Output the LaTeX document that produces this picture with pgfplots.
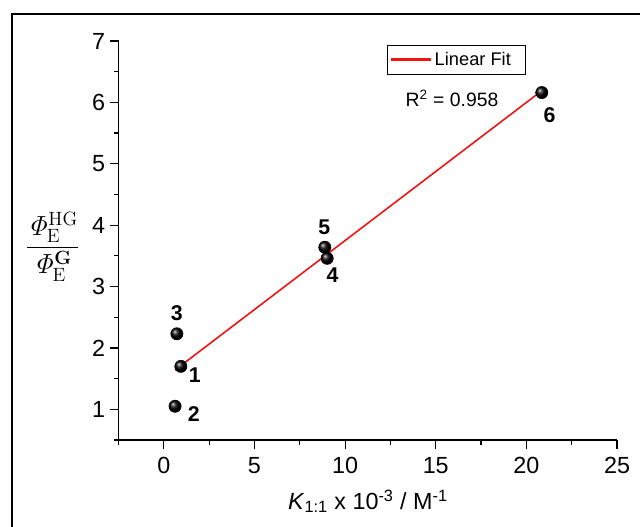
\documentclass[border=0pt]{standalone}
\usepackage{amsmath}
\usepackage[no-math]{fontspec}
\setmainfont{Liberation Sans}
\usepackage{pgfplots}
\pgfplotsset{compat=1.18}

\definecolor{fitred}{RGB}{240,20,20}

\begin{document}
\begin{tikzpicture}
\useasboundingbox (0,0) rectangle (480pt,394.5pt);
% outer frame
\draw[line width=1.5pt] (8.8pt,-5pt) -- (8.8pt,384pt) -- (490pt,384pt);
\begin{axis}[
  at={(88.875pt,64.5pt)}, anchor=south west,
  scale only axis, width=373.9pt, height=299.25pt,
  xmin=-2.5, xmax=25, ymin=0.5, ymax=7,
  axis lines=left,
  axis line style={-, line width=0.9pt},
  every tick/.style={black, line width=0.9pt},
  tick align=outside,
  major tick length=6.5pt, minor tick length=3.75pt,
  xtick={0,5,...,25}, ytick={1,2,...,7},
  minor xtick={-2.5,2.5,7.5,12.5,17.5,22.5},
  minor ytick={0.5,1.5,2.5,3.5,4.5,5.5,6.5},
  tick label style={font=\fontsize{17.5}{20}\selectfont},
  xticklabel style={yshift=-3pt},
  /pgf/number format/assume math mode=true,
  legend style={at={(0.5386,0.99)}, anchor=north west, draw=black,
    font=\fontsize{13.7}{16}\selectfont,
    inner xsep=2pt, inner ysep=3pt},
  legend cell align=left,
  legend image code/.code={\draw[fitred, line width=1.6pt] (0pt,0pt) -- (30pt,0pt);},
  clip=false,
]
% compounds 1-6
\addplot[only marks, mark=ball, ball color=black, mark size=4.6pt, forget plot]
  coordinates {(0.94,1.70) (0.62,1.05) (0.72,2.23) (9.01,3.46) (8.88,3.64) (20.85,6.16)};
% least-squares line
\addplot[fitred, line width=1.2pt] coordinates {(0.62,1.64) (20.85,6.19)};
\addlegendentry{Linear Fit\hspace*{7pt}\mbox{}}
\begin{scope}[every node/.style={font=\bfseries\fontsize{16}{18}\selectfont}]
\node at (axis cs:1.71,1.56) {1};
\node at (axis cs:1.65,0.915) {2};
\node at (axis cs:0.72,2.57) {3};
\node at (axis cs:9.31,3.18) {4};
\node at (axis cs:8.85,3.97) {5};
\node at (axis cs:21.28,5.80) {6};
\end{scope}
\end{axis}
\node[anchor=west, font=\fontsize{14.5}{17}\selectfont] at (300.75pt,321pt) {R\textsuperscript{2} = 0.958};
\node at (39.5pt,209.25pt) {\huge$\dfrac{\mathit{\Phi}_{\mathrm{E}}^{\mathrm{HG}}}{\mathit{\Phi}_{\mathrm{E}}^{\mathbf{G}}}$};
\node[font=\fontsize{17.5}{20}\selectfont] at (276pt,18.5pt) {\textit{K}\textsubscript{1:1} x 10\textsuperscript{-3} / M\textsuperscript{-1}};
\end{tikzpicture}
\end{document}
